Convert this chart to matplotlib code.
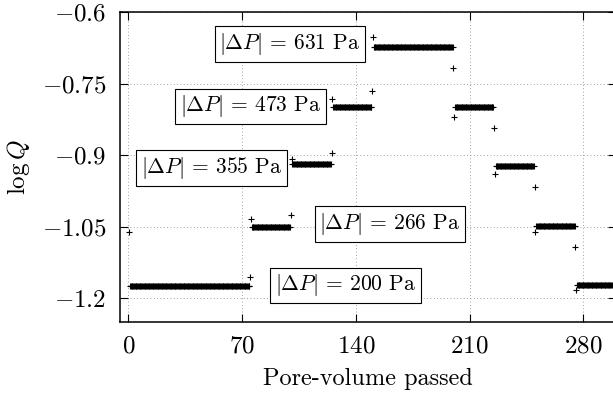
import matplotlib.pyplot as plt
import numpy as np

# plateau segments: start/end in pore volumes, first transient value,
# plateau level, last transient value (log Q)
seg_start = [0, 75, 100, 125, 150, 200, 225, 250, 275]
seg_end = [75, 100, 125, 150, 200, 225, 250, 275, 305]
seg_first = [-1.062, -1.034, -0.909, -0.782, -0.653, -0.820, -0.940, -1.062, -1.183]
seg_level = [-1.174, -1.050, -0.918, -0.800, -0.674, -0.800, -0.923, -1.048, -1.173]
seg_last = [-1.156, -1.025, -0.895, -0.765, -0.717, -0.843, -0.967, -1.092, None]

labels = ["631", "473", "355", "266", "200"]
label_x = [99.4, 75.3, 51.2, 160.9, 133.5]
label_y = [-0.667, -0.798, -0.927, -1.044, -1.173]

xticks = [0, 70, 140, 210, 280]
yticks = [-0.6, -0.75, -0.9, -1.05, -1.2]
ytick_labels = ["$-0.6$", "$-0.75$", "$-0.9$", "$-1.05$", "$-1.2$"]

plt.rcParams["font.family"] = "serif"
plt.rcParams["font.serif"] = ["cmr10"]
plt.rcParams["mathtext.fontset"] = "cm"
plt.rcParams["axes.formatter.use_mathtext"] = True

xs = []
ys = []
for i in range(len(seg_start)):
	x0 = seg_start[i]
	x1 = seg_end[i]
	xs.append(x0 + 0.4)
	ys.append(seg_first[i])
	px = np.arange(x0 + 1.0, x1, 0.5)
	xs.extend(px)
	ys.extend([seg_level[i]] * len(px))
	if seg_last[i] is not None:
		xs.append(x1)
		ys.append(seg_last[i])

fig = plt.figure(figsize=(6.13, 4.01), dpi=100)
ax = fig.add_axes([120/613, (401-321.7)/401, (616-120)/613, (321.7-12)/401])

ax.plot(xs, ys, "+", color="black", markersize=3.8, markeredgewidth=0.8)

ax.set_xlim(-5.1, 300)
ax.set_ylim(-1.249, -0.6)
ax.set_xticks(xticks)
ax.set_xticklabels(["$%d$" % t for t in xticks])
ax.set_yticks(yticks)
ax.set_yticklabels(ytick_labels)
ax.tick_params(direction="in", length=6, width=0.8, top=True, right=True,
	labelsize=18, pad=10)
ax.grid(True, linestyle=(0, (1, 3)), color="gray", lw=0.6)
for s in ax.spines.values():
	s.set_linewidth(1.1)

ax.set_xlabel("Pore-volume passed", fontsize=17.5, labelpad=7)
ax.set_ylabel(r"$\log Q$", fontsize=18, labelpad=7)

for lab, lx, ly in zip(labels, label_x, label_y):
	ax.text(lx, ly, r"$|\Delta P|\,=\,%s$ Pa" % lab, fontsize=15.5,
		ha="center", va="center",
		bbox=dict(boxstyle="square,pad=0.22", fc="white", ec="black", lw=0.8))

plt.savefig("out.png", dpi=100)
